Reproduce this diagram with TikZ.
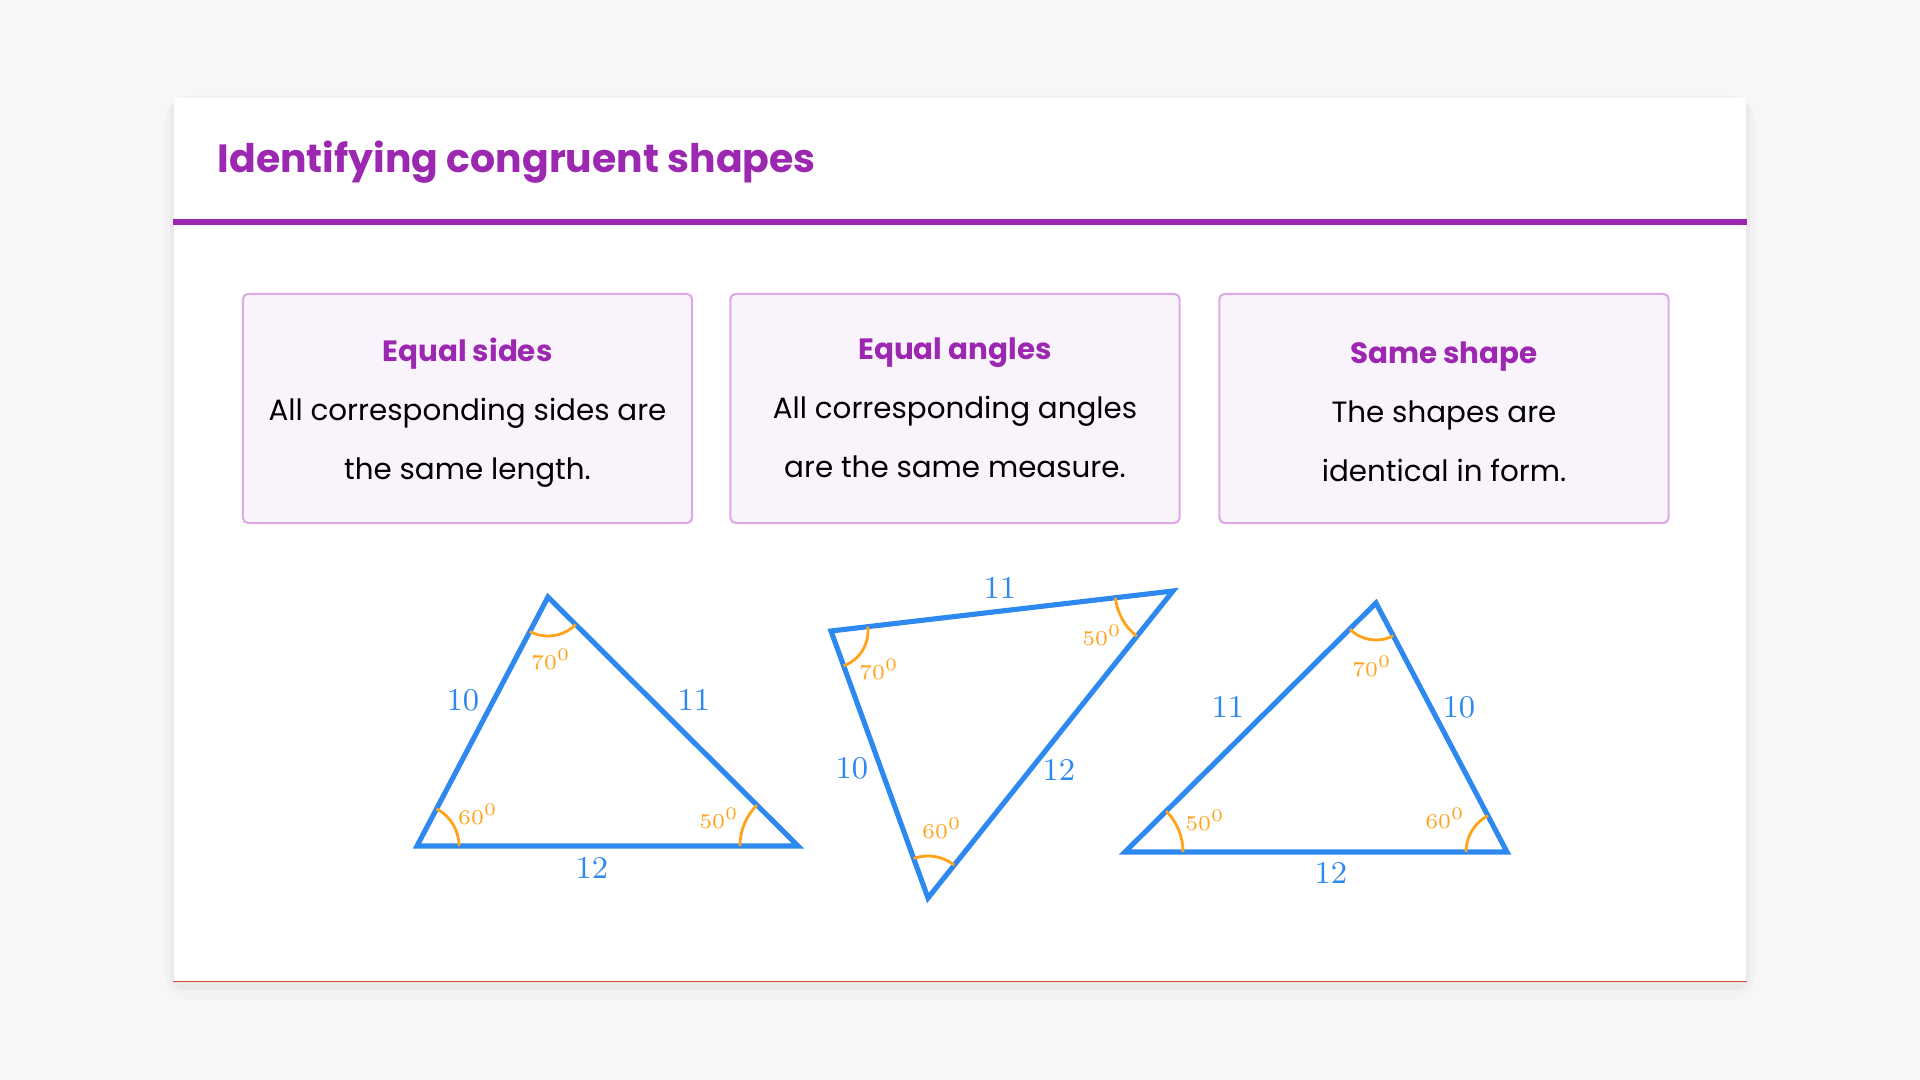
\documentclass[tikz,border=0pt]{standalone}
\usepackage{fontspec}
\newfontfamily\popfont{Poppins}
\usetikzlibrary{positioning,calc,angles}
\definecolor{plum}{RGB}{156,39,176}
\definecolor{lilac}{RGB}{221,170,230}
\definecolor{lilacbg}{RGB}{249,244,251}
\definecolor{skyblue}{RGB}{45,137,239}
\definecolor{amber}{RGB}{255,163,26}
\definecolor{pagebg}{RGB}{247,247,247}
\definecolor{edgered}{RGB}{220,72,52}
\tikzset{
  card/.style  ={fill=white,minimum width=15.72cm,minimum height=8.83cm,inner sep=0pt},
  title/.style ={text=plum,font=\popfont\bfseries\fontsize{11.2}{13}\selectfont,inner sep=0pt},
  rule/.style  ={draw=plum,line width=1.7pt},
  infobox/.style={draw=lilac,fill=lilacbg,line width=0.6pt,rounded corners=1.5pt,
                 minimum width=4.49cm,minimum height=2.29cm},
  boxtext/.style={align=center,inner sep=0pt,font=\popfont\fontsize{8.35}{16.8}\selectfont},
  tri/.style   ={draw=skyblue,line width=1.45pt,line join=miter},
  ang/.style   ={draw=amber,line width=0.8pt},
  side/.style  ={text=skyblue,font=\fontsize{8.8}{10}\selectfont,inner sep=0pt},
  deg/.style   ={text=amber,font=\fontsize{6.3}{7}\selectfont,inner sep=0pt}
}
\newcommand{\head}[1]{\strut\textcolor{plum}{\bfseries #1}}

\begin{document}
\begin{tikzpicture}[x=0.01cm,y=0.01cm]
\useasboundingbox[fill=pagebg] (0,0) rectangle (1920,-1080);

% card
\fill[black,opacity=0.02,rounded corners=8pt] (164,-96) rectangle (1756,-1000);
\fill[black,opacity=0.03,rounded corners=4pt] (170,-98) rectangle (1750,-990);
\node[card] (card) at (960,-539.5) {};
\draw[edgered,line width=0.3pt] (card.south west) -- (card.south east);

\node[title,anchor=base west] (ttl) at (217,-173) {Identifying congruent shapes};
\draw[rule] ($(card.north west)+(0,-125)$) -- ($(card.north east)+(0,-125)$);

\node[infobox] (eqs) at (467.5,-408.5) {};
\node[infobox] (eqa) at ($(eqs)+(487.5,0)$) {};
\node[infobox] (same) at ($(eqa)+(489,0)$) {};
\node[boxtext] (eqs-t) at ($(eqs)+(0,0)$)
  {\head{Equal sides}\\All corresponding sides are\\the same length.\strut};
\node[boxtext] (eqa-t) at ($(eqa)+(0,2)$)
  {\head{Equal angles}\\All corresponding angles\\are the same measure.\strut};
\node[boxtext] (same-t) at ($(same)+(0,-2)$)
  {\head{Same shape}\\The shapes are\\identical in form.\strut};

% first triangle
\coordinate (aL) at (417,-846);
\coordinate (aT) at (548,-597);
\coordinate (aR) at (798,-846);
\draw[tri] (aL) -- (aT) -- (aR) -- cycle;
\pic[ang,angle radius=0.42cm] {angle = aR--aL--aT};
\pic[ang,angle radius=0.39cm] {angle = aL--aT--aR};
\pic[ang,angle radius=0.58cm] {angle = aT--aR--aL};
\node[side] (a10) at (463,-700) {$10$};
\node[side] (a11) at (694,-700) {$11$};
\node[side] (a12) at (592,-868) {$12$};
\node[deg] (a70) at (551,-659) {$70^{0}$};
\node[deg] (a60) at (478,-814) {$60^{0}$};
\node[deg] (a50) at (719,-818) {$50^{0}$};

% second triangle
\coordinate (bA) at (831,-631);
\coordinate (bB) at (1173,-591);
\coordinate (bC) at (928,-898);
\draw[tri] (bA) -- (bB) -- (bC) -- cycle;
\pic[ang,angle radius=0.37cm] {angle = bC--bA--bB};
\pic[ang,angle radius=0.58cm] {angle = bA--bB--bC};
\pic[ang,angle radius=0.42cm] {angle = bB--bC--bA};
\node[side] (b11) at (1000,-588) {$11$};
\node[side] (b10) at (852,-768) {$10$};
\node[side] (b12) at (1059,-770) {$12$};
\node[deg] (b70) at (879,-669) {$70^{0}$};
\node[deg] (b50) at (1102,-635) {$50^{0}$};
\node[deg] (b60) at (942,-828) {$60^{0}$};

% third triangle
\coordinate (cL) at (1125,-852);
\coordinate (cT) at (1376,-603);
\coordinate (cR) at (1507,-852);
\draw[tri] (cL) -- (cT) -- (cR) -- cycle;
\pic[ang,angle radius=0.58cm] {angle = cR--cL--cT};
\pic[ang,angle radius=0.37cm] {angle = cL--cT--cR};
\pic[ang,angle radius=0.41cm] {angle = cT--cR--cL};
\node[side] (c11) at (1228,-707) {$11$};
\node[side] (c10) at (1459,-707) {$10$};
\node[side] (c12) at (1331,-873) {$12$};
\node[deg] (c70) at (1372,-666) {$70^{0}$};
\node[deg] (c50) at (1205,-820) {$50^{0}$};
\node[deg] (c60) at (1445,-818) {$60^{0}$};

\end{tikzpicture}
\end{document}
